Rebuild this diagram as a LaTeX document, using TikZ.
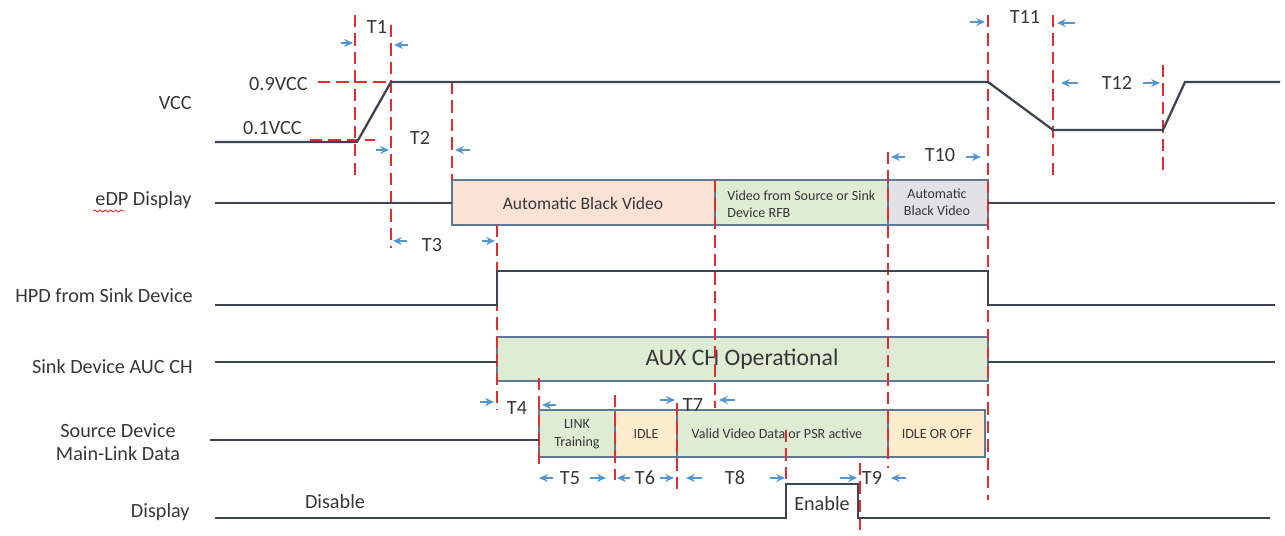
\documentclass[tikz,border=0pt]{standalone}
\usepackage{fontspec}
\setmainfont{Carlito}
\usetikzlibrary{arrows.meta,decorations.pathmorphing}
\definecolor{sigline}{RGB}{62,68,80}
\definecolor{markred}{RGB}{228,45,50}
\definecolor{arrblue}{RGB}{85,150,210}
\definecolor{boxedge}{RGB}{95,120,150}
\definecolor{txtgray}{RGB}{55,55,55}
\definecolor{peachbg}{RGB}{250,226,212}
\definecolor{greenbg}{RGB}{222,236,212}
\definecolor{graybg}{RGB}{226,226,230}
\definecolor{yellowbg}{RGB}{255,236,204}

\begin{document}
\begin{tikzpicture}[x=0.02cm,y=-0.02cm,
    sig/.style={draw=sigline,line width=1.3pt},
    tline/.style={draw=markred,line width=1.2pt,dash pattern=on 7pt off 3.5pt},
    tarr/.style={-{Stealth[length=5pt,width=4.5pt]},draw=arrblue,line width=0.9pt},
    seg/.style={draw=boxedge,line width=0.9pt},
    lbl/.style={font=\fontsize{11.5}{13.5}\selectfont,text=txtgray,inner sep=0pt},
    tlab/.style={font=\fontsize{11.5}{13.5}\selectfont,text=txtgray,inner sep=0pt},
    boxtxt/.style={font=\fontsize{8}{10}\selectfont,text=txtgray,inner sep=0pt,align=center}
  ]
    \useasboundingbox (0,0) rectangle (1285,536);

    % signal names
    \node[lbl,anchor=east] (vcc) at (192,103) {VCC};
    \node[lbl,anchor=east] (edp) at (192,200) {eDP Display};
    \node[lbl,anchor=east] (hpd) at (193,296) {HPD from Sink Device};
    \node[lbl,anchor=east] (aux) at (193,367) {Sink Device AUC CH};
    \node[lbl,align=center] (src) at (118,442) {Source Device\\Main-Link Data};
    \node[lbl,anchor=east] (disp) at (190,512) {Display};
    \draw[markred,line width=0.5pt,decorate,decoration={snake,amplitude=0.6pt,segment length=3pt}]
      (93,211) -- (125,211);
    \node[lbl,anchor=east] (v90) at (308,84) {0.9VCC};
    \node[lbl,anchor=east] (v10) at (302,128) {0.1VCC};

    % boxes
    \draw[seg,fill=peachbg] (452,180) rectangle (715,225);
    \draw[seg,fill=greenbg] (715,180) rectangle (888,225);
    \draw[seg,fill=graybg] (888,180) rectangle (988,225);
    \draw[seg,fill=greenbg] (497,337) rectangle (988,381);
    \draw[seg,fill=greenbg] (539,410) rectangle (615,457);
    \draw[seg,fill=yellowbg] (615,410) rectangle (677,457);
    \draw[seg,fill=greenbg] (677,410) rectangle (888,457);
    \draw[seg,fill=yellowbg] (888,410) rectangle (985,457);

    \node[boxtxt,font=\fontsize{10}{12}\selectfont] (blk1) at (583,203) {Automatic Black Video};
    \node[boxtxt,anchor=west,align=left] (rfb) at (727,204) {Video from Source or Sink\\Device RFB};
    \node[boxtxt] (blk2) at (937,202) {Automatic\\Black Video};
    \node[boxtxt,font=\fontsize{13.5}{15}\selectfont] (auxop) at (742,359) {AUX CH Operational};
    \node[boxtxt] (lt) at (577,434) {LINK\\Training};
    \node[boxtxt] (idle) at (646,434) {IDLE};
    \node[boxtxt] (valid) at (777,434) {Valid Video Data or PSR active};
    \node[boxtxt] (off) at (937,434) {IDLE OR OFF};

    % timing marks
    \draw[tline] (318,82) -- (405,82);
    \draw[tline] (310,140) -- (375,140);
    \draw[tline] (355,15) -- (355,175);
    \draw[tline] (391,25) -- (391,248);
    \draw[tline] (452,82) -- (452,180);
    \draw[tline] (497,225) -- (497,410);
    \draw[tline] (539,378) -- (539,470);
    \draw[tline] (615,395) -- (615,480);
    \draw[tline] (677,403) -- (677,490);
    \draw[tline] (715,180) -- (715,408);
    \draw[tline] (786,430) -- (786,515);
    \draw[tline] (860,463) -- (860,530);
    \draw[tline] (888,152) -- (888,468);
    \draw[tline] (988,15) -- (988,500);
    \draw[tline] (1053,15) -- (1053,180);
    \draw[tline] (1163,65) -- (1163,172);

    % signals
    \draw[sig] (215,142) -- (357,142) -- (391,82) -- (988,82) -- (1053,130)
      -- (1163,130) -- (1185,82) -- (1280,82);
    \draw[sig] (215,203) -- (452,203);
    \draw[sig] (988,203) -- (1275,203);
    \draw[sig] (215,305) -- (497,305) -- (497,271) -- (988,271) -- (988,305) -- (1275,305);
    \draw[sig] (215,362) -- (497,362);
    \draw[sig] (988,362) -- (1275,362);
    \draw[sig] (210,440) -- (539,440);
    \draw[sig] (215,518) -- (786,518) -- (786,484) -- (858,484) -- (858,518) -- (1270,518);
    \node[lbl] (dis) at (335,502) {Disable};
    \node[lbl] (ena) at (822,504) {Enable};

    % intervals
    \node[tlab] (t1) at (377,27) {T1};
    \draw[tarr] (341,43) -- (353,43);
    \draw[tarr] (408,45) -- (394,45);
    \node[tlab] (t2) at (420,138) {T2};
    \draw[tarr] (376,150) -- (389,150);
    \draw[tarr] (470,150) -- (455,150);
    \node[tlab] (t3) at (432,245) {T3};
    \draw[tarr] (407,241) -- (393,241);
    \draw[tarr] (482,241) -- (495,241);
    \node[tlab] (t4) at (517,408) {T4};
    \draw[tarr] (480,402) -- (494,402);
    \draw[tarr] (556,405) -- (542,405);
    \node[tlab] (t7) at (693,405) {T7};
    \draw[tarr] (660,400) -- (675,400);
    \draw[tarr] (735,400) -- (719,400);
    \node[tlab] (t5) at (570,478) {T5};
    \draw[tarr] (553,478) -- (539,478);
    \draw[tarr] (590,478) -- (606,478);
    \node[tlab] (t6) at (645,478) {T6};
    \draw[tarr] (630,478) -- (617,478);
    \draw[tarr] (660,478) -- (674,478);
    \node[tlab] (t8) at (735,478) {T8};
    \draw[tarr] (702,478) -- (686,478);
    \draw[tarr] (770,478) -- (785,478);
    \node[tlab] (t9) at (872,478) {T9};
    \draw[tarr] (840,478) -- (857,478);
    \draw[tarr] (906,478) -- (891,478);
    \node[tlab] (t10) at (940,155) {T10};
    \draw[tarr] (905,157) -- (891,157);
    \draw[tarr] (966,157) -- (981,157);
    \node[tlab] (t11) at (1025,17) {T11};
    \draw[tarr] (970,22) -- (985,22);
    \draw[tarr] (1075,23) -- (1057,23);
    \node[tlab] (t12) at (1117,83) {T12};
    \draw[tarr] (1078,83) -- (1061,83);
    \draw[tarr] (1143,83) -- (1160,83);
\end{tikzpicture}
\end{document}
